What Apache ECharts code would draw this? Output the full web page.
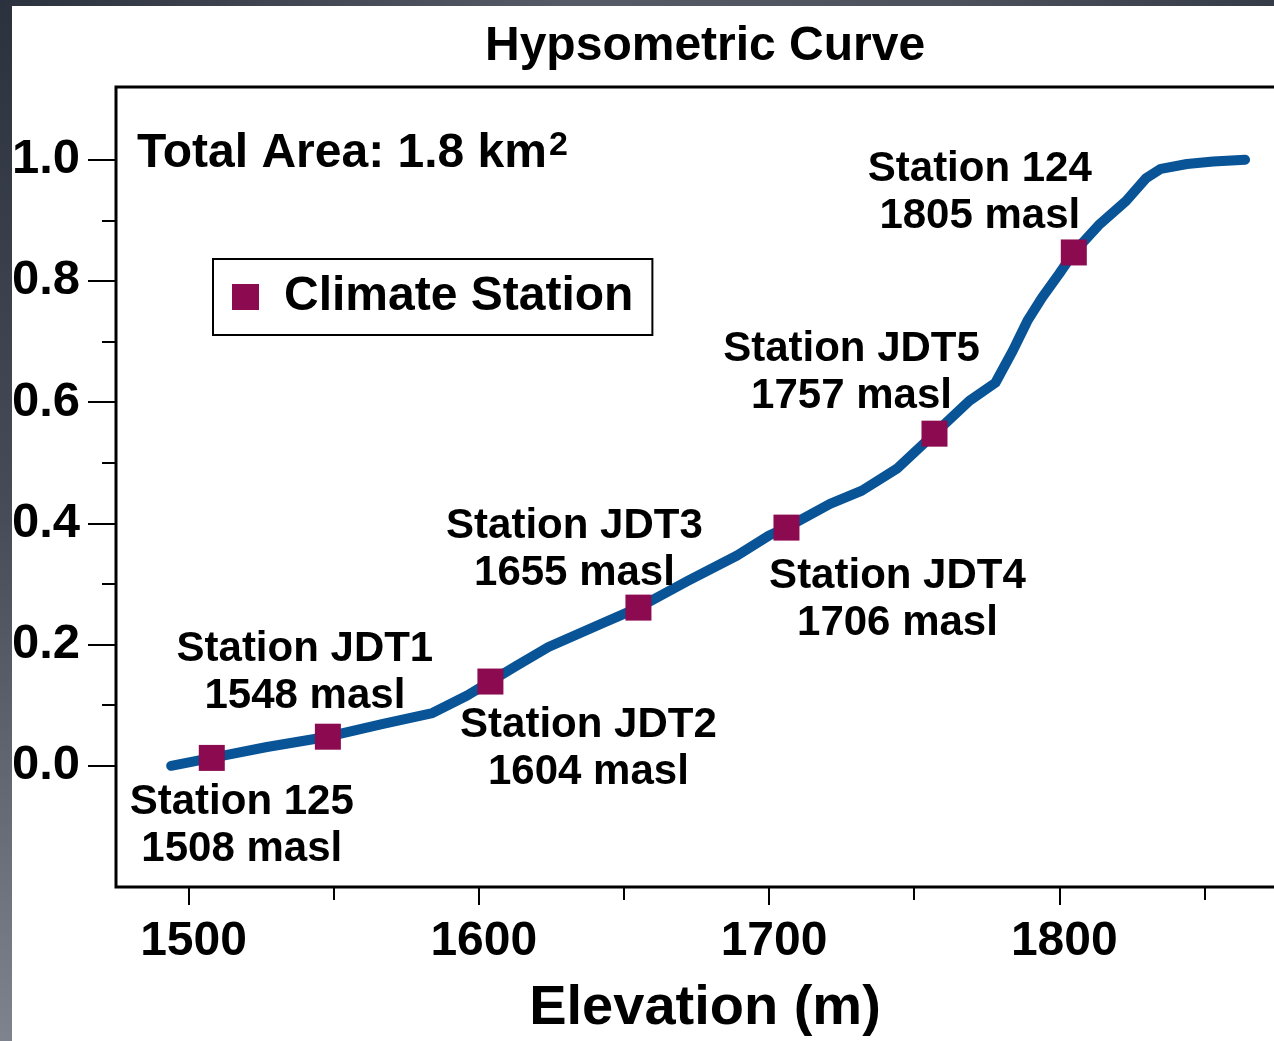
<!DOCTYPE html>
<html>
<head>
<meta charset="utf-8">
<script src="https://cdn.jsdelivr.net/npm/echarts@6/dist/echarts.min.js"></script>
<style>
  html, body { margin: 0; padding: 0; }
  body { width: 1274px; height: 1041px; position: relative; overflow: hidden;
         background: linear-gradient(180deg, #2b313d 0%, #474c58 50%, #7f838d 100%); }
  #topstrip { position: absolute; left: 0; top: 0; width: 1274px; height: 6px;
         background: linear-gradient(90deg, #2b313d 0%, #565b67 45%, #4c515c 75%, #353b47 100%); }
  #chart { position: absolute; left: 12px; top: 6px; width: 1262px; height: 1035px; background: #ffffff; overflow: hidden; }
</style>
</head>
<body>
<div id="topstrip"></div>
<div id="chart"></div>
<script>
// ---- Data ----
const curveElevation = [1494, 1508, 1527, 1548, 1567, 1584, 1596, 1604, 1613, 1624, 1643, 1655, 1672, 1689, 1700, 1706, 1721, 1732, 1744, 1757, 1769, 1778, 1784, 1789, 1794, 1800, 1805, 1814, 1823, 1830, 1835, 1844, 1853, 1864];
const curveFraction  = [0.000, 0.013, 0.031, 0.048, 0.069, 0.087, 0.116, 0.139, 0.165, 0.196, 0.236, 0.261, 0.305, 0.347, 0.380, 0.393, 0.432, 0.454, 0.490, 0.548, 0.602, 0.632, 0.685, 0.734, 0.772, 0.812, 0.847, 0.894, 0.932, 0.970, 0.985, 0.993, 0.997, 1.000];

const stationNames     = ['Station 125', 'Station JDT1', 'Station JDT2', 'Station JDT3', 'Station JDT4', 'Station JDT5', 'Station 124'];
const stationElevation = [1508, 1548, 1604, 1655, 1706, 1757, 1805];
const stationFraction  = [0.013, 0.048, 0.139, 0.261, 0.393, 0.548, 0.847];

const xMajorTicks = [1500, 1600, 1700, 1800];
const xMinorTicks = [1550, 1650, 1750, 1850];
const yMajorTicks = [0.0, 0.2, 0.4, 0.6, 0.8, 1.0];
const yMinorTicks = [0.1, 0.3, 0.5, 0.7, 0.9];

const titleText = 'Hypsometric Curve';
const areaText = 'Total Area: 1.8 km';
const xAxisName = 'Elevation (m)';
const legendName = 'Climate Station';

// ---- Label placement (style only) ----
const labelPosition = ['bottom', 'top', 'bottom', 'top', 'bottom', 'top', 'top'];
const labelShift = [[30, 8], [-23, -4], [98, 7], [-64, 2], [111, 12], [-83, -1], [-94, 0]];

const FONT = '"Liberation Sans", Arial, Helvetica, sans-serif';
const X_MIN = 1475, X_MAX = 1885, Y_MIN = -0.2, Y_MAX = 1.12;

const curveData = curveElevation.map((e, i) => [e, curveFraction[i]]);
const stationData = stationElevation.map((e, i) => ({
  value: [e, stationFraction[i]],
  name: stationNames[i],
  label: { position: labelPosition[i] }
}));

const chart = echarts.init(document.getElementById('chart'), null, { renderer: 'canvas' });

const tickStyle = { color: '#000', width: 2 };

chart.setOption({
  animation: false,
  backgroundColor: '#ffffff',
  title: [
    {
      text: titleText, left: 473, top: 17, padding: 0,
      textStyle: { fontFamily: FONT, fontSize: 48, fontWeight: 'bold', color: '#000' }
    },
    {
      text: '{a|' + areaText + '}{s|2}', left: 125, top: 123, padding: 0,
      textStyle: {
        rich: {
          a: { fontFamily: FONT, fontSize: 48, fontWeight: 'bold', color: '#000', lineHeight: 50 },
          s: { fontFamily: FONT, fontSize: 34, fontWeight: 'bold', color: '#000', verticalAlign: 'top', lineHeight: 34, padding: [0, 0, 0, 2] }
        }
      }
    }
  ],
  legend: {
    data: [legendName],
    left: 201, top: 253,
    orient: 'horizontal',
    icon: 'rect',
    itemWidth: 27, itemHeight: 26,
    padding: [14, 19, 14, 19],
    borderColor: '#000', borderWidth: 2,
    backgroundColor: '#fff',
    selectedMode: false,
    textStyle: { fontFamily: FONT, fontSize: 48, fontWeight: 'bold', color: '#000', padding: [0, 0, 0, 20] }
  },
  grid: {
    left: 104, top: 81, width: 1190, bottom: 154,
    outerBoundsMode: 'none',
    containLabel: false,
    show: true, borderColor: '#000', borderWidth: 3, backgroundColor: 'transparent'
  },
  xAxis: [
    {
      type: 'value', min: X_MIN, max: X_MAX, position: 'bottom',
      axisLine: { show: false, onZero: false },
      splitLine: { show: false },
      axisTick: { show: true, customValues: xMajorTicks, length: 18, inside: false, lineStyle: tickStyle },
      axisLabel: { show: true, customValues: xMajorTicks, margin: 31, fontFamily: FONT, fontSize: 48, fontWeight: 'bold', color: '#000',
                   padding: [0, 0, 0, 10], formatter: v => String(v) },
      name: xAxisName, nameLocation: 'middle', nameGap: 94,
      nameTextStyle: { fontFamily: FONT, fontSize: 56, fontWeight: 'bold', color: '#000', padding: [0, 12, 0, 0] }
    },
    {
      type: 'value', min: X_MIN, max: X_MAX, position: 'bottom',
      axisLine: { show: false, onZero: false },
      splitLine: { show: false },
      axisTick: { show: true, customValues: xMinorTicks, length: 13, inside: false, lineStyle: tickStyle },
      axisLabel: { show: false }
    }
  ],
  yAxis: [
    {
      type: 'value', min: Y_MIN, max: Y_MAX, position: 'left',
      axisLine: { show: false, onZero: false },
      splitLine: { show: false },
      axisTick: { show: true, customValues: yMajorTicks, length: 28, inside: false, lineStyle: tickStyle },
      axisLabel: { show: true, customValues: yMajorTicks, margin: 36, fontFamily: FONT, fontSize: 49, fontWeight: 'bold', color: '#000',
                   formatter: v => Number(v).toFixed(1) }
    },
    {
      type: 'value', min: Y_MIN, max: Y_MAX, position: 'left',
      axisLine: { show: false, onZero: false },
      splitLine: { show: false },
      axisTick: { show: true, customValues: yMinorTicks, length: 14, inside: false, lineStyle: tickStyle },
      axisLabel: { show: false }
    }
  ],
  series: [
    {
      name: 'Hypsometric Curve',
      type: 'line',
      xAxisIndex: 0, yAxisIndex: 0,
      data: curveData,
      showSymbol: false,
      smooth: false,
      lineStyle: { color: '#085496', width: 10, cap: 'round', join: 'round' },
      itemStyle: { color: '#085496' },
      z: 2,
      silent: true
    },
    {
      name: legendName,
      type: 'scatter',
      xAxisIndex: 0, yAxisIndex: 0,
      data: stationData,
      symbol: 'rect',
      symbolSize: 26,
      itemStyle: { color: '#8c0a50', opacity: 1 },
      z: 5,
      label: {
        show: true,
        distance: 0,
        formatter: p => p.name + '\n' + p.value[0] + ' masl',
        fontFamily: FONT, fontSize: 42, fontWeight: 'bold', color: '#000', lineHeight: 47, align: 'center'
      },
      labelLayout: p => ({ dx: labelShift[p.dataIndex][0], dy: labelShift[p.dataIndex][1], hideOverlap: false }),
      silent: true
    }
  ]
});
</script>
</body>
</html>
